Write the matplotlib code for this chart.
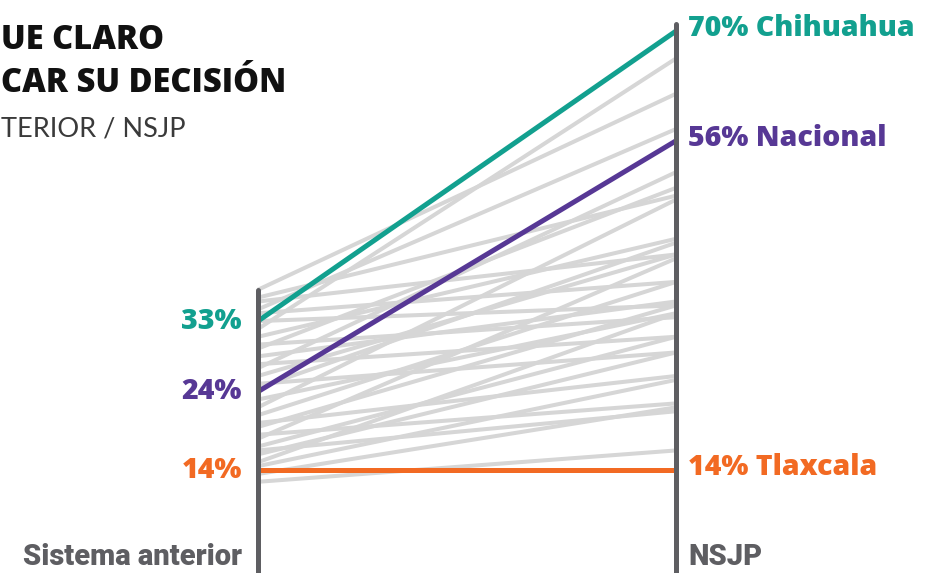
import matplotlib
matplotlib.use("Agg")
import matplotlib.pyplot as plt

# Share of people (%) per system, one pair per state
periods = ["Sistema anterior", "NSJP"]

state_before = [37.0, 36.0, 35.5, 34.5, 34.0, 33.0, 32.0, 31.0, 30.0, 29.5,
                28.5, 27.5, 27.0, 26.0, 25.0, 24.5, 23.0, 22.0, 21.0, 20.0,
                19.5, 18.5, 18.0, 17.0, 16.5, 16.0, 15.0, 14.5, 13.5, 12.5]
state_after = [62.0, 49.0, 41.5, 57.5, 38.0, 35.0, 66.5, 43.5, 33.5, 50.0,
               35.5, 31.0, 52.0, 41.5, 29.0, 43.0, 34.0, 48.5, 38.0, 26.0,
               35.0, 22.5, 41.0, 31.0, 21.5, 29.0, 34.0, 25.5, 22.0, 16.5]

highlight_names = ["Chihuahua", "Nacional", "Tlaxcala"]
highlight_before = [33, 24, 14]
highlight_after = [70, 56, 14]
highlight_colors = ["#12a08f", "#573895", "#f26a23"]

GRAY_LINE = "#d6d6d6"
AXIS_GRAY = "#5e5e62"
TEXT_GRAY = "#5e5e62"

W, H = 925, 573
fig = plt.figure(figsize=(W / 100, H / 100), dpi=100)
ax = fig.add_axes([0, 0, 1, 1])
ax.set_xlim(-0.6172, 1.5957)
ax.set_ylim(0.867, 73.96)
ax.axis("off")

xs = [0, 1]

# Vertical period axes
ax.plot([0, 0], [-5, max(state_before + highlight_before)], color=AXIS_GRAY,
        lw=3.6, solid_capstyle="round", zorder=4)
ax.plot([1, 1], [-5, max(state_after + highlight_after) + 0.9], color=AXIS_GRAY,
        lw=3.6, solid_capstyle="round", zorder=4)

# Background states
for b, a in zip(state_before, state_after):
    ax.plot(xs, [b, a], color=GRAY_LINE, lw=2.9, solid_capstyle="butt", zorder=1)

# Highlighted series
for name, b, a, c in zip(highlight_names, highlight_before, highlight_after, highlight_colors):
    ax.plot(xs, [b, a], color=c, lw=3.6, solid_capstyle="butt", zorder=3)

label_font = dict(family=["Open Sans", "DejaVu Sans"], fontweight="heavy", fontsize=20.5)
left_off = -16 / 418
right_off = 12 / 418
for name, b, a, c in zip(highlight_names, highlight_before, highlight_after, highlight_colors):
    ax.text(left_off, b, f"{b}%", color=c, ha="right", va="center", **label_font)
    ax.text(1 + right_off, a + 0.3, f"{a}% {name}", color=c, ha="left", va="center", **label_font)

# Period names at the foot of each axis
period_font = dict(family=["Roboto", "DejaVu Sans"], fontweight="black", fontsize=21,
                   color=TEXT_GRAY, va="baseline")
fig.text(242 / W, 1 - 565 / H, periods[0], ha="right", **period_font)
fig.text(688 / W, 1 - 565 / H, periods[1], ha="left", **period_font)

# Heading
head_font = dict(family=["Open Sans", "DejaVu Sans"], fontweight="heavy", fontsize=23.5,
                 color="#111111", ha="left", va="baseline")
fig.text(1 / W, 1 - 49 / H, "UE CLARO", **head_font)
fig.text(1 / W, 1 - 92 / H, "CAR SU DECISIÓN", **head_font)
fig.text(1 / W, 1 - 137 / H, "TERIOR / NSJP", ha="left", va="baseline",
         family=["Lato", "DejaVu Sans"], fontweight="normal", fontsize=19.5, color="#3a3a3a")

fig.savefig("out.png", dpi=100, facecolor="white")
